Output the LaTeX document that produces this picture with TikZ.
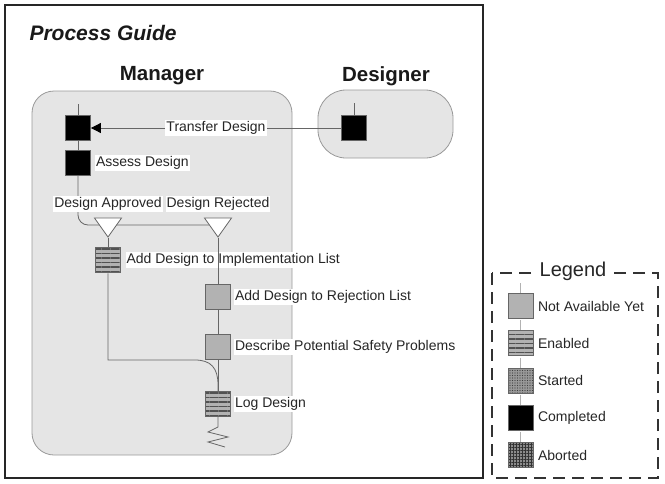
\documentclass[tikz,border=0pt]{standalone}
\usepackage{fontspec}
\setmainfont{Liberation Sans}
\usetikzlibrary{positioning,arrows.meta,shapes.geometric,patterns.meta}
\pgfdeclarelayer{lanes}
\pgfdeclarelayer{links}
\pgfsetlayers{lanes,links,main}

\begin{document}
\begin{tikzpicture}[x=1pt,y=-1pt,
  txt/.style={font=\fontsize{14pt}{16pt}\selectfont,text=black!85,inner sep=1pt},
  lbl/.style={txt,fill=white},
  head/.style={font=\fontsize{20.5pt}{24pt}\selectfont\bfseries,text=black!90},
  task/.style={draw=black!60,line width=0.8pt,minimum size=25pt,inner sep=0pt},
  notyet/.style={task,fill=black!30},
  enabled/.style={task,preaction={fill=black!30},pattern={Lines[distance=4.5pt,line width=1.8pt]},pattern color=black!68},
  started/.style={task,preaction={fill=black!40},pattern={Dots[distance=2.5pt,radius=0.6pt]},pattern color=black!75},
  done/.style={task,fill=black},
  aborted/.style={task,preaction={fill=black!45},pattern={Hatch[distance=3pt,line width=0.7pt]},pattern color=black!80},
  choice/.style={draw=black!60,line width=0.8pt,fill=white,isosceles triangle,isosceles triangle stretches,shape border rotate=270,minimum width=27pt,minimum height=19pt,inner sep=0pt},
  lane/.style={draw=black!40,line width=0.8pt,fill=black!10},
  conn/.style={draw=black!60,line width=0.8pt},
]
\useasboundingbox (0,0) rectangle (665,483);
\draw[line width=2.6pt,black!85] (5,5) rectangle (483,478);
\node[anchor=west,font=\fontsize{21pt}{25pt}\selectfont\bfseries\itshape,text=black!90] (guide) at (26,33) {Process Guide};
\node[head] (mgr) at (162,76) {Manager};
\node[head] (dsg) at (386,76) {Designer};

\begin{pgfonlayer}{lanes}
\draw[lane,rounded corners=22pt] (32,91) rectangle (292,455);
\draw[lane,rounded corners=28pt] (318,90) rectangle (453,158);
\end{pgfonlayer}

\node[done] (recv) at (78,128) {};
\node[done] (assess) at (78,163) {};
\node[done] (send) at (354,128) {};
\node[choice] (appr) at (108,225) {};
\node[choice] (rej) at (218,225) {};
\node[enabled] (impl) at (108,260) {};
\node[notyet] (rejl) at (218,297) {};
\node[notyet] (safety) at (218,347) {};
\node[enabled] (logd) at (218,404) {};

\node[lbl,right=4pt of assess] (assessL) {Assess Design};
\node[lbl] (apprL) at (108,204) {Design Approved};
\node[lbl] (rejL) at (218,204) {Design Rejected};
\node[lbl,right=4pt of impl] (implL) {Add Design to Implementation List};
\node[lbl,right=3pt of rejl] (rejlL) {Add Design to Rejection List};
\node[lbl,right=3pt of safety] (safetyL) {Describe Potential Safety Problems};
\node[lbl,right=3pt of logd] (logdL) {Log Design};

\coordinate (recvIn) at (78,104);
\coordinate (sendIn) at (354,103);
\draw[conn] (recvIn) -- (recv);
\draw[conn] (sendIn) -- (send);
\draw[conn,-{Triangle[length=10pt,width=10pt,black]}] (send) -- node[lbl] (xferL) {Transfer Design} (recv);

\begin{pgfonlayer}{links}
\draw[conn] (recv) -- (assess);
\draw[conn,rounded corners=10pt] (assess) |- (rej);
\draw[conn] (appr) -- (impl);
\draw[conn] (impl) |- (195,360) .. controls (211,360) and (218,368) .. (218,385) -- (logd);
\end{pgfonlayer}
\draw[conn] (rej) -- (rejl);
\draw[conn] (rejl) -- (safety);
\draw[conn] (safety) -- (logd);
\draw[conn] (logd) -- (218,427) -- (208,432) -- (228,437) -- (208,442) -- (225,447);

\draw[black!80,line width=1.8pt,dash pattern=on 12pt off 7pt] (492,273) rectangle (658,478);
\node[txt,fill=white,font=\fontsize{20pt}{24pt}\selectfont,inner sep=3pt] (legend) at (573,271) {Legend};
\foreach \kind/\keytext [count=\i] in {notyet/Not Available Yet,enabled/Enabled,started/Started,done/Completed,aborted/Aborted}{
  \node[\kind] (key\i) at (520.5,{268.75+37.25*\i}) {};
  \coordinate (keyIn\i) at (520.5,{268.75+37.25*\i-23});
  \draw[black!30,line width=0.8pt] (keyIn\i) -- (key\i);
  \node[txt,right=3.5pt of key\i] (keyL\i) {\keytext};
}
\end{tikzpicture}
\end{document}
